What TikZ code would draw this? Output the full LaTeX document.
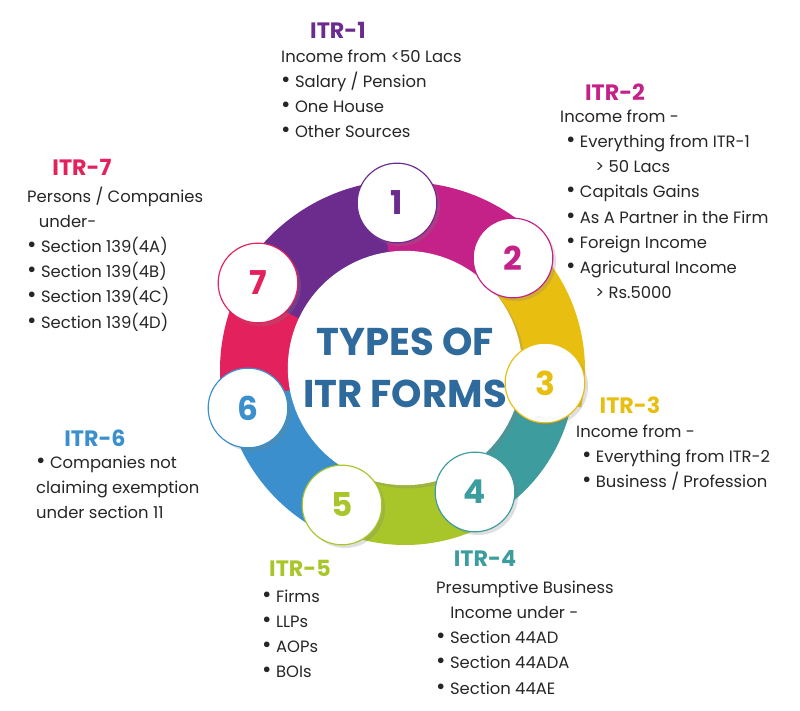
\documentclass[tikz,border=0pt]{standalone}
\usepackage{fontspec}
\setmainfont{Poppins}
\usetikzlibrary{shadows,calc}
\definecolor{cpurple}{HTML}{6B2C8E}
\definecolor{cmagenta}{HTML}{C42288}
\definecolor{cyellow}{HTML}{E8BE10}
\definecolor{cteal}{HTML}{3D9C9E}
\definecolor{cgreen}{HTML}{A8C62A}
\definecolor{cblue}{HTML}{3A8FCC}
\definecolor{cred}{HTML}{E3215C}
\definecolor{ctitle}{HTML}{2E6A9C}
\tikzset{
  numcirc/.style={circle,fill=white,draw=#1,line width=1pt,minimum size=68pt,text=#1,
    font=\fontsize{28}{30}\selectfont\bfseries,drop shadow={opacity=0.25}},
  itrtitle/.style={text=#1,font=\fontsize{19}{22}\selectfont\bfseries},
  itrbody/.style={anchor=north west,align=left,inner sep=0pt,text=black!85,
    font=\fontsize{14}{21.4}\selectfont}
}
\newcommand{\bul}{\scalebox{1.4}{\textbullet}}
\newcommand{\sector}[4]{% color, start, end, outer radius
  \fill[#1] ($(405,370)+(#2:103)$) arc[start angle=#2,end angle=#3,radius=103]
    -- ($(405,370)+(#3:#4)$) arc[start angle=#3,end angle=#2,radius=#4] -- cycle;}
\begin{document}
\begin{tikzpicture}[x=0.03cm,y=-0.03cm]
\useasboundingbox (0,0) rectangle (800,711);
% swirl ring
\sector{cred}{160}{216}{185}
\sector{cpurple}{206}{272}{190}
\sector{cmagenta}{262}{320}{188}
\sector{cyellow}{310}{372}{180}
\sector{cteal}{2}{64}{170}
\sector{cgreen}{56}{120}{175}
\sector{cblue}{112}{170}{182}
% centre
\node[circle,fill=white,minimum size=200pt,drop shadow={opacity=0.25}] (centre) at (405,368) {};
\node[text=ctitle,align=center,font=\fontsize{33}{44}\selectfont\bfseries] (types) at (405,368) {TYPES OF\\ITR FORMS};
% number circles
\node[numcirc=cpurple] (n1) at (397,203) {1};
\node[numcirc=cmagenta] (n2) at (513,258) {2};
\node[numcirc=cyellow] (n3) at (545,383) {3};
\node[numcirc=cteal] (n4) at (475,492) {4};
\node[numcirc=cgreen] (n5) at (342,505) {5};
\node[numcirc=cblue] (n6) at (248,408) {6};
\node[numcirc=cred] (n7) at (258,283) {7};
% ITR-1
\node[itrtitle=cpurple] (t1) at (338,30) {ITR-1};
\node[itrbody] (b1) at (281,50) {Income from <50 Lacs\\ \bul\ Salary / Pension\\ \bul\ One House\\ \bul\ Other Sources};
% ITR-2
\node[itrtitle=cmagenta] (t2) at (615,92) {ITR-2};
\node[itrbody] (b2) at (560,110) {Income from -\\ \hspace{5pt}\bul\ Everything from ITR-1\\ \hspace{30pt}> 50 Lacs\\ \hspace{5pt}\bul\ Capitals Gains\\ \hspace{5pt}\bul\ As A Partner in the Firm\\ \hspace{5pt}\bul\ Foreign Income\\ \hspace{5pt}\bul\ Agricutural Income\\ \hspace{30pt}> Rs.5000};
% ITR-3
\node[itrtitle=cyellow] (t3) at (630,405) {ITR-3};
\node[itrbody] (b3) at (576,425) {Income from -\\ \hspace{5pt}\bul\ Everything from ITR-2\\ \hspace{5pt}\bul\ Business / Profession};
% ITR-4
\node[itrtitle=cteal] (t4) at (485,558) {ITR-4};
\node[itrbody] (b4) at (436,581) {Presumptive Business\\ \hspace{12pt}Income under -\\ \bul\ Section 44AD\\ \bul\ Section 44ADA\\ \bul\ Section 44AE};
% ITR-5
\node[itrtitle=cgreen] (t5) at (300,568) {ITR-5};
\node[itrbody] (b5) at (262,590) {\bul\ Firms\\ \bul\ LLPs\\ \bul\ AOPs\\ \bul\ BOIs};
% ITR-6
\node[itrtitle=cblue] (t6) at (95,438) {ITR-6};
\node[itrbody] (b6) at (36,456) {\bul\ Companies not\\ claiming exemption\\ under section 11};
% ITR-7
\node[itrtitle=cred] (t7) at (82,167) {ITR-7};
\node[itrbody] (b7) at (27,187) {Persons / Companies\\ \hspace{10pt}under-\\ \bul\ Section 139(4A)\\ \bul\ Section 139(4B)\\ \bul\ Section 139(4C)\\ \bul\ Section 139(4D)};
\end{tikzpicture}
\end{document}
